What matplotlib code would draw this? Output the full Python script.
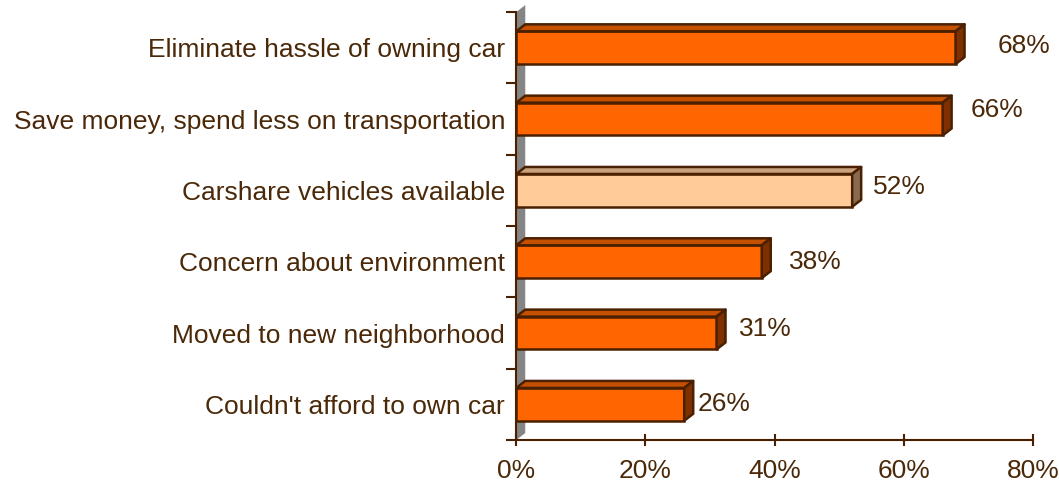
import matplotlib.pyplot as plt
from matplotlib.patches import Polygon

# data, bottom to top
reasons = [
    "Couldn't afford to own car",
    "Moved to new neighborhood",
    "Concern about environment",
    "Carshare vehicles available",
    "Save money, spend less on transportation",
    "Eliminate hassle of owning car",
]
shares = [26, 31, 38, 52, 66, 68]
highlight = "Carshare vehicles available"

# label nudges in pixels (Excel put them a bit all over the place)
label_dx = [13, 22, 27, 21, 28, 42]
label_dy = [0, 4, 0, 3, 9, 2]

TEXT = '#4A2808'
EDGE = '#4A2000'
FRONT, TOP, SIDE = '#FF6600', '#C45000', '#7F3000'
FRONT_HL, TOP_HL, SIDE_HL = '#FFCC99', '#C8A27C', '#876A50'
FS = 19

plt.rcParams['font.family'] = ['Liberation Sans', 'DejaVu Sans']

fig = plt.figure(figsize=(10.59, 4.83), dpi=100)
ax = fig.add_axes([0.4875, 0.089, 0.488, 0.886])
ax.set_xlim(0, 80)
ax.set_ylim(-0.5, len(reasons) - 0.5)

# 3d depth, in data units, from a pixel offset
bbox = ax.get_window_extent()
dx = 9 * 80 / bbox.width
dy = 7 * len(reasons) / bbox.height
h = 0.46

# side wall
wall = Polygon([(0, -0.5), (dx, -0.5 + dy), (dx, len(reasons) - 0.5 + dy),
                (0, len(reasons) - 0.5)],
               closed=True, facecolor='#858585', edgecolor='none',
               clip_on=False, zorder=1)
ax.add_patch(wall)

for i, (name, v) in enumerate(zip(reasons, shares)):
    hl = name == highlight
    front = FRONT_HL if hl else FRONT
    top = TOP_HL if hl else TOP
    side = SIDE_HL if hl else SIDE
    y0, y1 = i - h / 2, i + h / 2
    ax.barh(i, v, height=h, color=front, edgecolor=EDGE, linewidth=1.8,
            zorder=3)
    ax.add_patch(Polygon([(0, y1), (dx, y1 + dy), (v + dx, y1 + dy), (v, y1)],
                         closed=True, facecolor=top, edgecolor=EDGE,
                         linewidth=1.8, joinstyle='round', zorder=3,
                         clip_on=False))
    ax.add_patch(Polygon([(v, y0), (v + dx, y0 + dy), (v + dx, y1 + dy),
                          (v, y1)],
                         closed=True, facecolor=side, edgecolor=EDGE,
                         linewidth=1.8, joinstyle='round', zorder=3,
                         clip_on=False))
    ax.annotate(f'{v}%', xy=(v, i), xytext=(label_dx[i], label_dy[i]),
                textcoords='offset pixels', ha='left', va='center',
                fontsize=FS, color=TEXT)

for s in ['top', 'right']:
    ax.spines[s].set_visible(False)
for s in ['left', 'bottom']:
    ax.spines[s].set_color(EDGE)
    ax.spines[s].set_linewidth(1.5)
    ax.spines[s].set_zorder(4)

ax.set_yticks(range(len(reasons)))
ax.set_yticklabels(reasons)
ax.set_yticks([i - 0.5 for i in range(len(reasons) + 1)], minor=True)
ax.tick_params(axis='y', which='major', length=0, pad=8, labelsize=FS,
               labelcolor=TEXT)
ax.tick_params(axis='y', which='minor', length=7, width=1.5, color=EDGE,
               direction='out')

ax.set_xticks(range(0, 81, 20))
ax.set_xticklabels([f'{t}%' for t in range(0, 81, 20)])
ax.tick_params(axis='x', length=9, width=1.5, color=EDGE, direction='inout',
               pad=9, labelsize=FS, labelcolor=TEXT)

fig.savefig('out.png', dpi=100)
